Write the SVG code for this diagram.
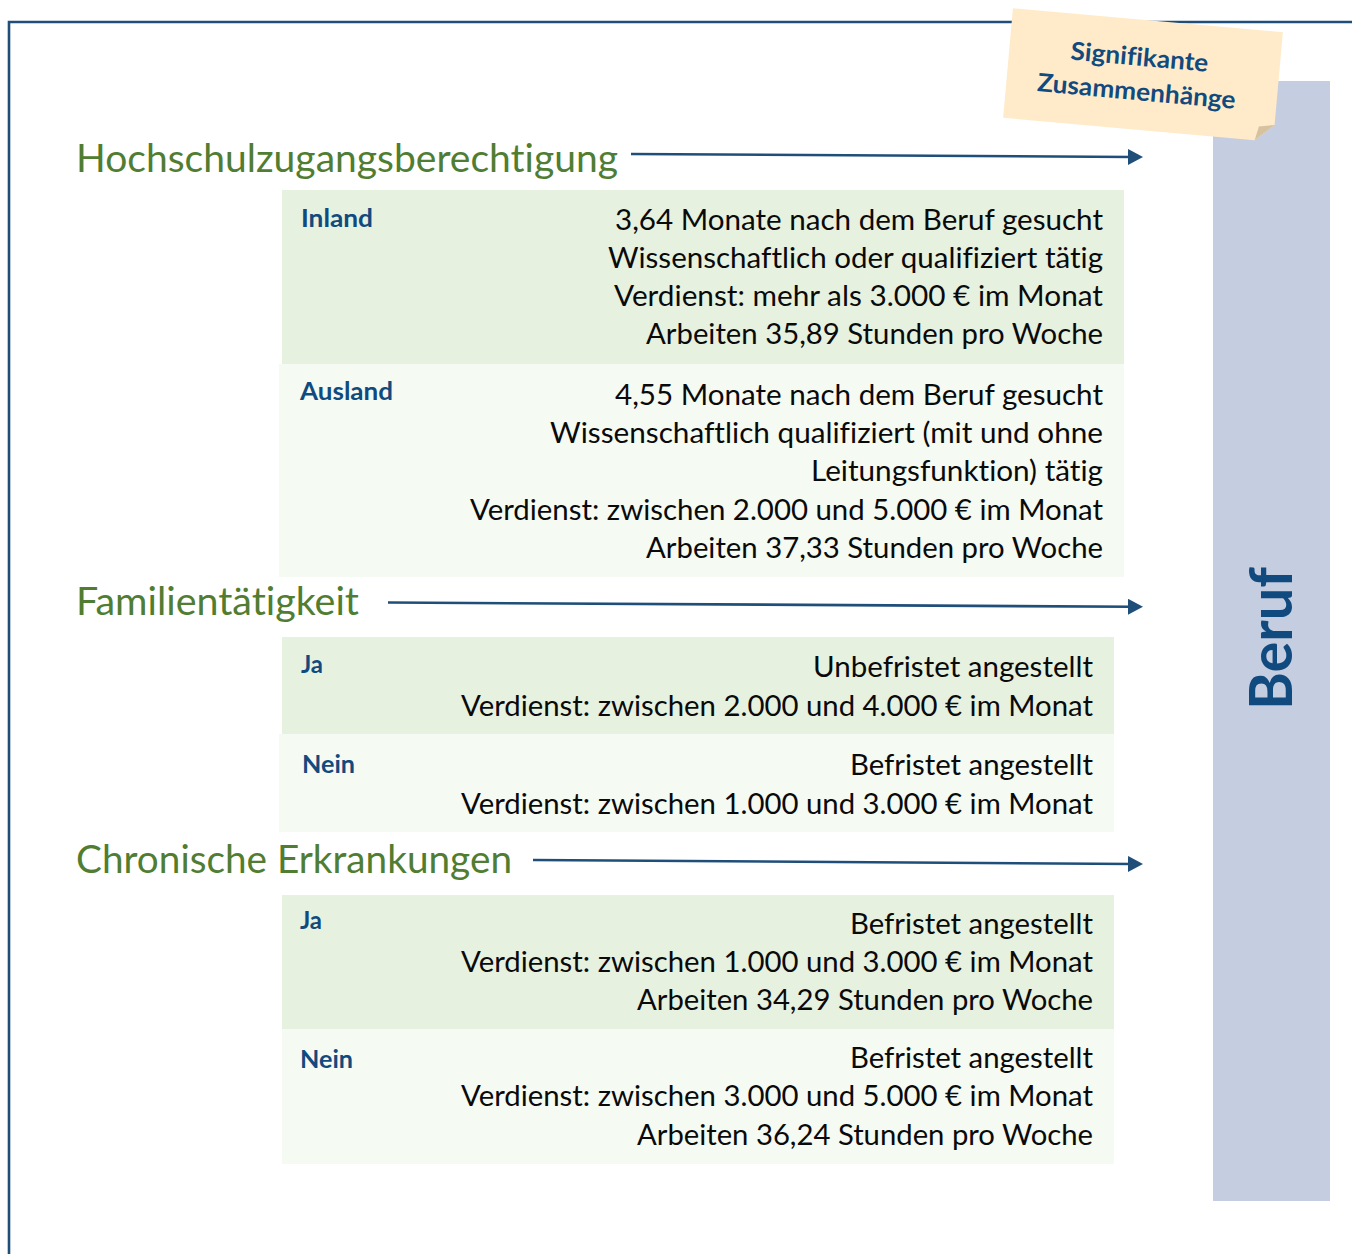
<svg xmlns="http://www.w3.org/2000/svg" width="1352" height="1254" viewBox="0 0 1352 1254">
  <defs>
    <style>
      text { font-variant-ligatures: none; }
      .head { font-family: Lato, "Open Sans", "Liberation Sans", sans-serif; font-size: 39px; fill: #507D32; }
      .lab { font-family: Lato, "Open Sans", "Liberation Sans", sans-serif; font-size: 25px; font-weight: bold; fill: #114A7E; }
      .txt { font-family: Lato, "Open Sans", "Liberation Sans", sans-serif; font-size: 28px; fill: #0A0A0A; text-anchor: end; }
      .note { font-family: Lato, "Open Sans", "Liberation Sans", sans-serif; font-size: 25px; font-weight: bold; fill: #114A7E; text-anchor: middle; }
      .dark { fill: #E7F1E0; }
      .light { fill: #F5FAF3; }
      .conn { fill: none; stroke: #1F4E79; stroke-width: 2.6; }
    </style>
    <marker id="arrowhead" markerUnits="userSpaceOnUse" viewBox="0 0 15 16" refX="5" refY="8" markerWidth="15" markerHeight="16" orient="auto">
      <path d="M0,0 L15,8 L0,16 z" fill="#1F4E79"/>
    </marker>
  </defs>

  <rect width="1352" height="1254" fill="#FFFFFF"/>

  <!-- frame -->
  <path d="M9,1254 V22 H1352" fill="none" stroke="#1F4E79" stroke-width="2.6"/>

  <!-- target bar -->
  <g id="beruf">
    <rect x="1213" y="81" width="117" height="1120" fill="#C5CDE0"/>
    <text transform="translate(1292,638.5) rotate(-90)" x="0" y="0" text-anchor="middle" textLength="143" lengthAdjust="spacingAndGlyphs" style="font-family: Lato, 'Open Sans', 'Liberation Sans', sans-serif; font-size: 60px; font-weight: bold; fill: #114A7E;">Beruf</text>
  </g>

  <!-- sticky note -->
  <g id="note" transform="rotate(5.1 1143 75)">
    <polygon points="1007.5,20 1278.5,20 1278.5,113 1260,130 1007.5,130" fill="#FFEBC9"/>
    <polygon points="1278.5,113 1260,130 1263,116" fill="#D6C29F"/>
    <text class="note" x="1138" y="66" textLength="138" lengthAdjust="spacingAndGlyphs">Signifikante</text>
    <text class="note" x="1138" y="100.5" textLength="199" lengthAdjust="spacingAndGlyphs">Zusammenhänge</text>
  </g>

  <!-- connectors -->
  <g id="connectors">
    <path class="conn" d="M631,154 L1133,157" marker-end="url(#arrowhead)"/>
    <path class="conn" d="M388,602.5 L1133,606.8" marker-end="url(#arrowhead)"/>
    <path class="conn" d="M533,860 L1133,864" marker-end="url(#arrowhead)"/>
  </g>

  <!-- Hochschulzugangsberechtigung -->
  <g id="hzb">
    <text class="head" x="76" y="172" textLength="542" lengthAdjust="spacingAndGlyphs">Hochschulzugangsberechtigung</text>
  </g>
  <g id="hzb-inland">
    <rect class="dark" x="282" y="190" width="842" height="174"/>
    <text class="lab" x="301" y="227" textLength="72" lengthAdjust="spacingAndGlyphs">Inland</text>
    <text class="txt" x="1103" y="230" textLength="488" lengthAdjust="spacingAndGlyphs">3,64 Monate nach dem Beruf gesucht</text>
    <text class="txt" x="1103" y="268" textLength="495" lengthAdjust="spacingAndGlyphs">Wissenschaftlich oder qualifiziert tätig</text>
    <text class="txt" x="1103" y="306" textLength="489" lengthAdjust="spacingAndGlyphs">Verdienst: mehr als 3.000 € im Monat</text>
    <text class="txt" x="1103" y="344" textLength="457" lengthAdjust="spacingAndGlyphs">Arbeiten 35,89 Stunden pro Woche</text>
  </g>
  <g id="hzb-ausland">
    <rect class="light" x="279" y="364" width="845" height="213"/>
    <text class="lab" x="300" y="400" textLength="93" lengthAdjust="spacingAndGlyphs">Ausland</text>
    <text class="txt" x="1103" y="405" textLength="488" lengthAdjust="spacingAndGlyphs">4,55 Monate nach dem Beruf gesucht</text>
    <text class="txt" x="1103" y="443" textLength="553" lengthAdjust="spacingAndGlyphs">Wissenschaftlich qualifiziert (mit und ohne</text>
    <text class="txt" x="1103" y="481" textLength="292" lengthAdjust="spacingAndGlyphs">Leitungsfunktion) tätig</text>
    <text class="txt" x="1103" y="520" textLength="633" lengthAdjust="spacingAndGlyphs">Verdienst: zwischen 2.000 und 5.000 € im Monat</text>
    <text class="txt" x="1103" y="558" textLength="457" lengthAdjust="spacingAndGlyphs">Arbeiten 37,33 Stunden pro Woche</text>
  </g>

  <!-- Familientätigkeit -->
  <g id="fam">
    <text class="head" x="76" y="615" textLength="283" lengthAdjust="spacingAndGlyphs">Familientätigkeit</text>
  </g>
  <g id="fam-ja">
    <rect class="dark" x="282" y="637" width="832" height="97"/>
    <text class="lab" x="301" y="673" textLength="22" lengthAdjust="spacingAndGlyphs">Ja</text>
    <text class="txt" x="1093" y="677" textLength="280" lengthAdjust="spacingAndGlyphs">Unbefristet angestellt</text>
    <text class="txt" x="1093" y="716" textLength="632" lengthAdjust="spacingAndGlyphs">Verdienst: zwischen 2.000 und 4.000 € im Monat</text>
  </g>
  <g id="fam-nein">
    <rect class="light" x="279" y="734" width="835" height="98"/>
    <text class="lab" x="302" y="773" textLength="53" lengthAdjust="spacingAndGlyphs">Nein</text>
    <text class="txt" x="1093" y="775" textLength="243" lengthAdjust="spacingAndGlyphs">Befristet angestellt</text>
    <text class="txt" x="1093" y="814" textLength="632" lengthAdjust="spacingAndGlyphs">Verdienst: zwischen 1.000 und 3.000 € im Monat</text>
  </g>

  <!-- Chronische Erkrankungen -->
  <g id="chron">
    <text class="head" x="76" y="873" textLength="436" lengthAdjust="spacingAndGlyphs">Chronische Erkrankungen</text>
  </g>
  <g id="chron-ja">
    <rect class="dark" x="282" y="895" width="832" height="134"/>
    <text class="lab" x="300" y="929" textLength="22" lengthAdjust="spacingAndGlyphs">Ja</text>
    <text class="txt" x="1093" y="934" textLength="243" lengthAdjust="spacingAndGlyphs">Befristet angestellt</text>
    <text class="txt" x="1093" y="972" textLength="632" lengthAdjust="spacingAndGlyphs">Verdienst: zwischen 1.000 und 3.000 € im Monat</text>
    <text class="txt" x="1093" y="1010" textLength="456" lengthAdjust="spacingAndGlyphs">Arbeiten 34,29 Stunden pro Woche</text>
  </g>
  <g id="chron-nein">
    <rect class="light" x="282" y="1029" width="832" height="135"/>
    <text class="lab" x="300" y="1068" textLength="53" lengthAdjust="spacingAndGlyphs">Nein</text>
    <text class="txt" x="1093" y="1068" textLength="243" lengthAdjust="spacingAndGlyphs">Befristet angestellt</text>
    <text class="txt" x="1093" y="1106" textLength="632" lengthAdjust="spacingAndGlyphs">Verdienst: zwischen 3.000 und 5.000 € im Monat</text>
    <text class="txt" x="1093" y="1145" textLength="456" lengthAdjust="spacingAndGlyphs">Arbeiten 36,24 Stunden pro Woche</text>
  </g>
</svg>
